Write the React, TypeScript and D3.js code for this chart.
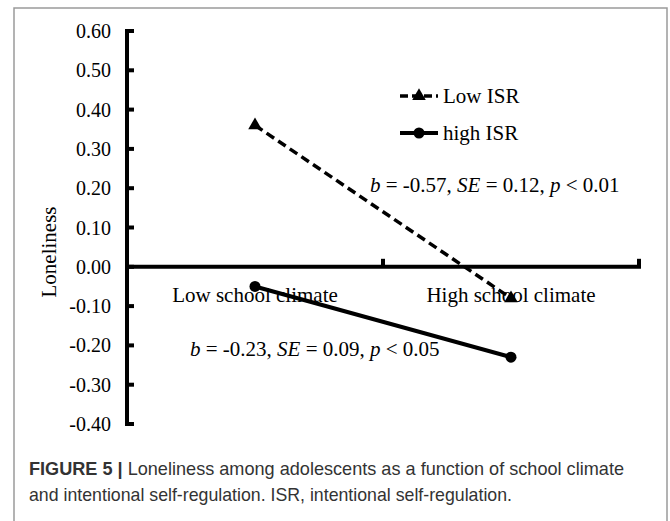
import React from 'react';
import * as d3 from 'd3';

// Interaction plot: loneliness by school climate and ISR

const categories = ['Low school climate', 'High school climate'];
const lowISR = [0.36, -0.08];
const highISR = [-0.05, -0.23];
const yTicks = [0.6, 0.5, 0.4, 0.3, 0.2, 0.1, 0.0, -0.1, -0.2, -0.3, -0.4];

const serif = '"Liberation Serif", "Times New Roman", serif';
const sans = '"Liberation Sans", Arial, sans-serif';

export default function App() {
  const W = 670, H = 521;
  const x = d3.scaleBand().domain(categories).range([127, 639]);
  const y = d3.scaleLinear().domain([-0.4, 0.6]).range([424, 31]);
  const cx = (c: string) => (x(c) as number) + x.bandwidth() / 2;

  const line = d3.line<number>()
    .x((d, i) => cx(categories[i]))
    .y(d => y(d));

  const tri = d3.symbol().type(d3.symbolTriangle).size(80)();
  const fmt = (v: number) => v.toFixed(2);

  return (
    <svg width={W} height={H} style={{ position: 'absolute', left: 0, top: 0, background: '#fff' }}>
      {/* frame */}
      <path d={`M14,${H} V8 H667 V${H}`} fill="none" stroke="#9a9a9a" strokeWidth={1.5} />

      {/* y axis */}
      <line x1={127} x2={127} y1={y(0.6)} y2={y(-0.4)} stroke="#000" strokeWidth={4} />
      {yTicks.map(t => (
        <g key={t}>
          <line x1={125} x2={134} y1={y(t)} y2={y(t)} stroke="#000" strokeWidth={4} />
          <text x={111} y={y(t)} dy="0.35em" textAnchor="end" fontFamily={serif} fontSize={20}>{fmt(t)}</text>
        </g>
      ))}
      <text transform={`translate(56,${252}) rotate(-90)`} textAnchor="middle" fontFamily={serif} fontSize={21}>Loneliness</text>

      {/* x axis */}
      <line x1={127} x2={641} y1={y(0)} y2={y(0)} stroke="#000" strokeWidth={4} />
      {categories.map(c => (
        <line key={c} x1={(x(c) as number) + x.bandwidth()} x2={(x(c) as number) + x.bandwidth()}
          y1={y(0)} y2={y(0) - 8} stroke="#000" strokeWidth={4} />
      ))}
      {categories.map(c => (
        <text key={c} x={cx(c)} y={302} textAnchor="middle" fontFamily={serif} fontSize={21}>{c}</text>
      ))}

      {/* series */}
      <path d={line(lowISR) as string} fill="none" stroke="#000" strokeWidth={3.5} strokeDasharray="9,5" />
      {lowISR.map((v, i) => (
        <path key={i} d={tri as string} transform={`translate(${cx(categories[i])},${y(v)})`} fill="#000" />
      ))}
      <path d={line(highISR) as string} fill="none" stroke="#000" strokeWidth={4} />
      {highISR.map((v, i) => (
        <circle key={i} cx={cx(categories[i])} cy={y(v)} r={5.5} fill="#000" />
      ))}

      {/* legend */}
      <line x1={400} x2={438} y1={96} y2={96} stroke="#000" strokeWidth={3.5} strokeDasharray="8,4" />
      <path d={tri as string} transform="translate(419,96)" fill="#000" />
      <text x={443} y={96} dy="0.35em" fontFamily={serif} fontSize={21}>Low ISR</text>
      <line x1={400} x2={438} y1={133} y2={133} stroke="#000" strokeWidth={4} />
      <circle cx={419} cy={133} r={5.5} fill="#000" />
      <text x={443} y={133} dy="0.35em" fontFamily={serif} fontSize={21}>high ISR</text>

      {/* annotations */}
      <text x={370} y={185} dy="0.35em" fontFamily={serif} fontSize={21}>
        <tspan fontStyle="italic">b</tspan> = -0.57, <tspan fontStyle="italic">SE</tspan> = 0.12, <tspan fontStyle="italic">p</tspan> &lt; 0.01
      </text>
      <text x={190} y={349} dy="0.35em" fontFamily={serif} fontSize={21}>
        <tspan fontStyle="italic">b</tspan> = -0.23, <tspan fontStyle="italic">SE</tspan> = 0.09, <tspan fontStyle="italic">p</tspan> &lt; 0.05
      </text>

      {/* caption */}
      <text x={29} y={475} fontFamily={sans} fontSize={19} fill="#333" textLength={595} lengthAdjust="spacingAndGlyphs">
        <tspan fontWeight="bold">FIGURE 5 |</tspan> Loneliness among adolescents as a function of school climate
      </text>
      <text x={29} y={501} fontFamily={sans} fontSize={19} fill="#333" textLength={483} lengthAdjust="spacingAndGlyphs">
        and intentional self-regulation. ISR, intentional self-regulation.
      </text>
    </svg>
  );
}
